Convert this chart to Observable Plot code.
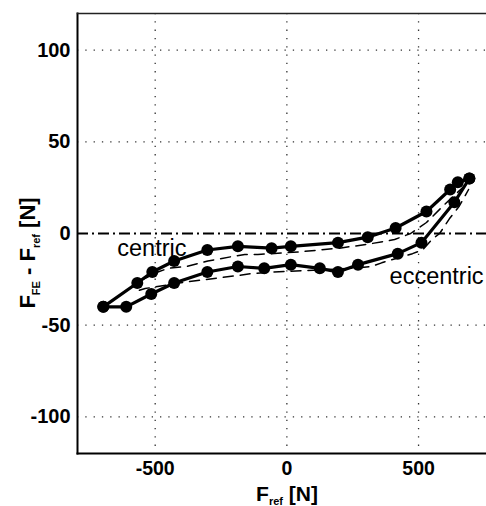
<!DOCTYPE html>
<html>
<head>
<meta charset="utf-8">
<script src="https://cdn.jsdelivr.net/npm/d3@7"></script>
<script src="https://cdn.jsdelivr.net/npm/@observablehq/plot@0.6"></script>
<style>
  html, body { margin: 0; padding: 0; background: #fff; }
  #chart { width: 486px; height: 506px; overflow: hidden; }
  svg { font-family: "Liberation Sans", Arial, sans-serif; }
</style>
</head>
<body>
<div id="chart"></div>
<script>
// Measured loop (solid, with markers)
const centricX = [-697, -568, -511, -428, -302, -186, -58, 15, 194, 307, 413, 530, 620, 649, 693];
const centricY = [-40, -27, -21, -15, -9, -7, -8, -7, -5, -2, 3, 12, 24, 28, 30];
const eccentricX = [693, 636, 511, 421, 270, 194, 125, 15, -86, -186, -302, -428, -515, -610, -697];
const eccentricY = [30, 17, -5, -11, -17, -21, -19, -17, -19, -18, -21, -27, -33, -40, -40];

// Model loop (dashed)
const modelUpperX = [-560, -490, -450, -380, -300, -205, -160, -110, -60, 50, 200, 300, 371, 409, 470, 530, 600, 690];
const modelUpperY = [-26, -21, -19, -18, -15, -12.5, -11.4, -11.4, -11, -10, -8, -6, -4.3, -3.3, 0, 6, 16, 28];
const modelLowerX = [-560, -538, -386, -190, -140, -50, 100, 250, 322, 360, 477, 515, 553, 580, 617, 655, 690];
const modelLowerY = [-31, -30, -26.5, -23, -22, -21, -20, -19, -18, -16, -11, -9, -3, 0, 8, 15, 24];

const xTicks = [-500, 0, 500];
const yTicks = [-100, -50, 0, 50, 100];
const yGrid = [-100, -50, 50, 100];

const labels = ["centric", "eccentric"];
const labelX = [-644, 390];
const labelY = [-12.5, -27.7];

const solid = [
  ...centricX.map((x, i) => ({x, y: centricY[i], s: "centric"})),
  ...eccentricX.map((x, i) => ({x, y: eccentricY[i], s: "eccentric"}))
];
const dashed = [
  ...modelUpperX.map((x, i) => ({x, y: modelUpperY[i], s: "upper"})),
  ...modelLowerX.map((x, i) => ({x, y: modelLowerY[i], s: "lower"}))
];
const labelData = labels.map((t, i) => ({t, x: labelX[i], y: labelY[i]}));

const plot = Plot.plot({
  width: 486,
  height: 506,
  marginLeft: 77,
  marginRight: 0,
  marginTop: 13,
  marginBottom: 53,
  style: {fontFamily: "'Liberation Sans', Arial, sans-serif", background: "#fff", color: "#000"},
  x: {domain: [-795, 758], ticks: xTicks, label: null},
  y: {domain: [-120, 120], ticks: yTicks, label: null},
  marks: [
    Plot.ruleX(xTicks, {stroke: "#333", strokeWidth: 1.3, strokeDasharray: "1.3,7"}),
    Plot.ruleY(yGrid, {stroke: "#333", strokeWidth: 1.3, strokeDasharray: "1.3,7"}),
    Plot.ruleY([0], {stroke: "#000", strokeWidth: 1.8, strokeDasharray: "11,4,2,4"}),
    Plot.line(dashed, {x: "x", y: "y", z: "s", stroke: "#000", strokeWidth: 1.5, strokeDasharray: "10,7", curve: "linear"}),
    Plot.line(solid, {x: "x", y: "y", z: "s", stroke: "#000", strokeWidth: 3.2}),
    Plot.dot(solid, {x: "x", y: "y", r: 6, fill: "#000", stroke: "none"}),
    Plot.text(labelData, {x: "x", y: "y", text: "t", textAnchor: "start", lineAnchor: "bottom", fontSize: 23.5, fill: "#000"}),
    Plot.frame({anchor: "left", stroke: "#000", strokeWidth: 2}),
    Plot.frame({anchor: "bottom", stroke: "#000", strokeWidth: 2}),
    Plot.frame({anchor: "top", stroke: "#222", strokeWidth: 1.5}),
    Plot.axisX(xTicks, {tickSize: 0, tickPadding: 8, fontSize: 19.5, fontWeight: "bold", label: null, tickFormat: d => String(d)}),
    Plot.axisY(yTicks, {tickSize: 0, tickPadding: 7, fontSize: 20, fontWeight: "bold", label: null, tickFormat: d => String(d)})
  ]
});

document.getElementById("chart").appendChild(plot);

// Axis titles with subscripts
const svg = d3.select(plot);
const xl = svg.append("text")
  .attr("x", 287).attr("y", 501)
  .attr("text-anchor", "middle")
  .attr("font-size", 21).attr("font-weight", "bold").attr("fill", "#000");
xl.append("tspan").text("F");
xl.append("tspan").attr("font-size", 11).attr("dy", 4).text("ref");
xl.append("tspan").attr("dy", -4).text(" [N]");

const yl = svg.append("text")
  .attr("transform", "translate(35,253) rotate(-90)")
  .attr("text-anchor", "middle")
  .attr("font-size", 22).attr("font-weight", "bold").attr("fill", "#000");
yl.append("tspan").text("F");
yl.append("tspan").attr("font-size", 11).attr("dy", 5).text("FE");
yl.append("tspan").attr("dy", -5).text(" - F");
yl.append("tspan").attr("font-size", 11).attr("dy", 5).text("ref");
yl.append("tspan").attr("dy", -5).text(" [N]");
</script>
</body>
</html>
